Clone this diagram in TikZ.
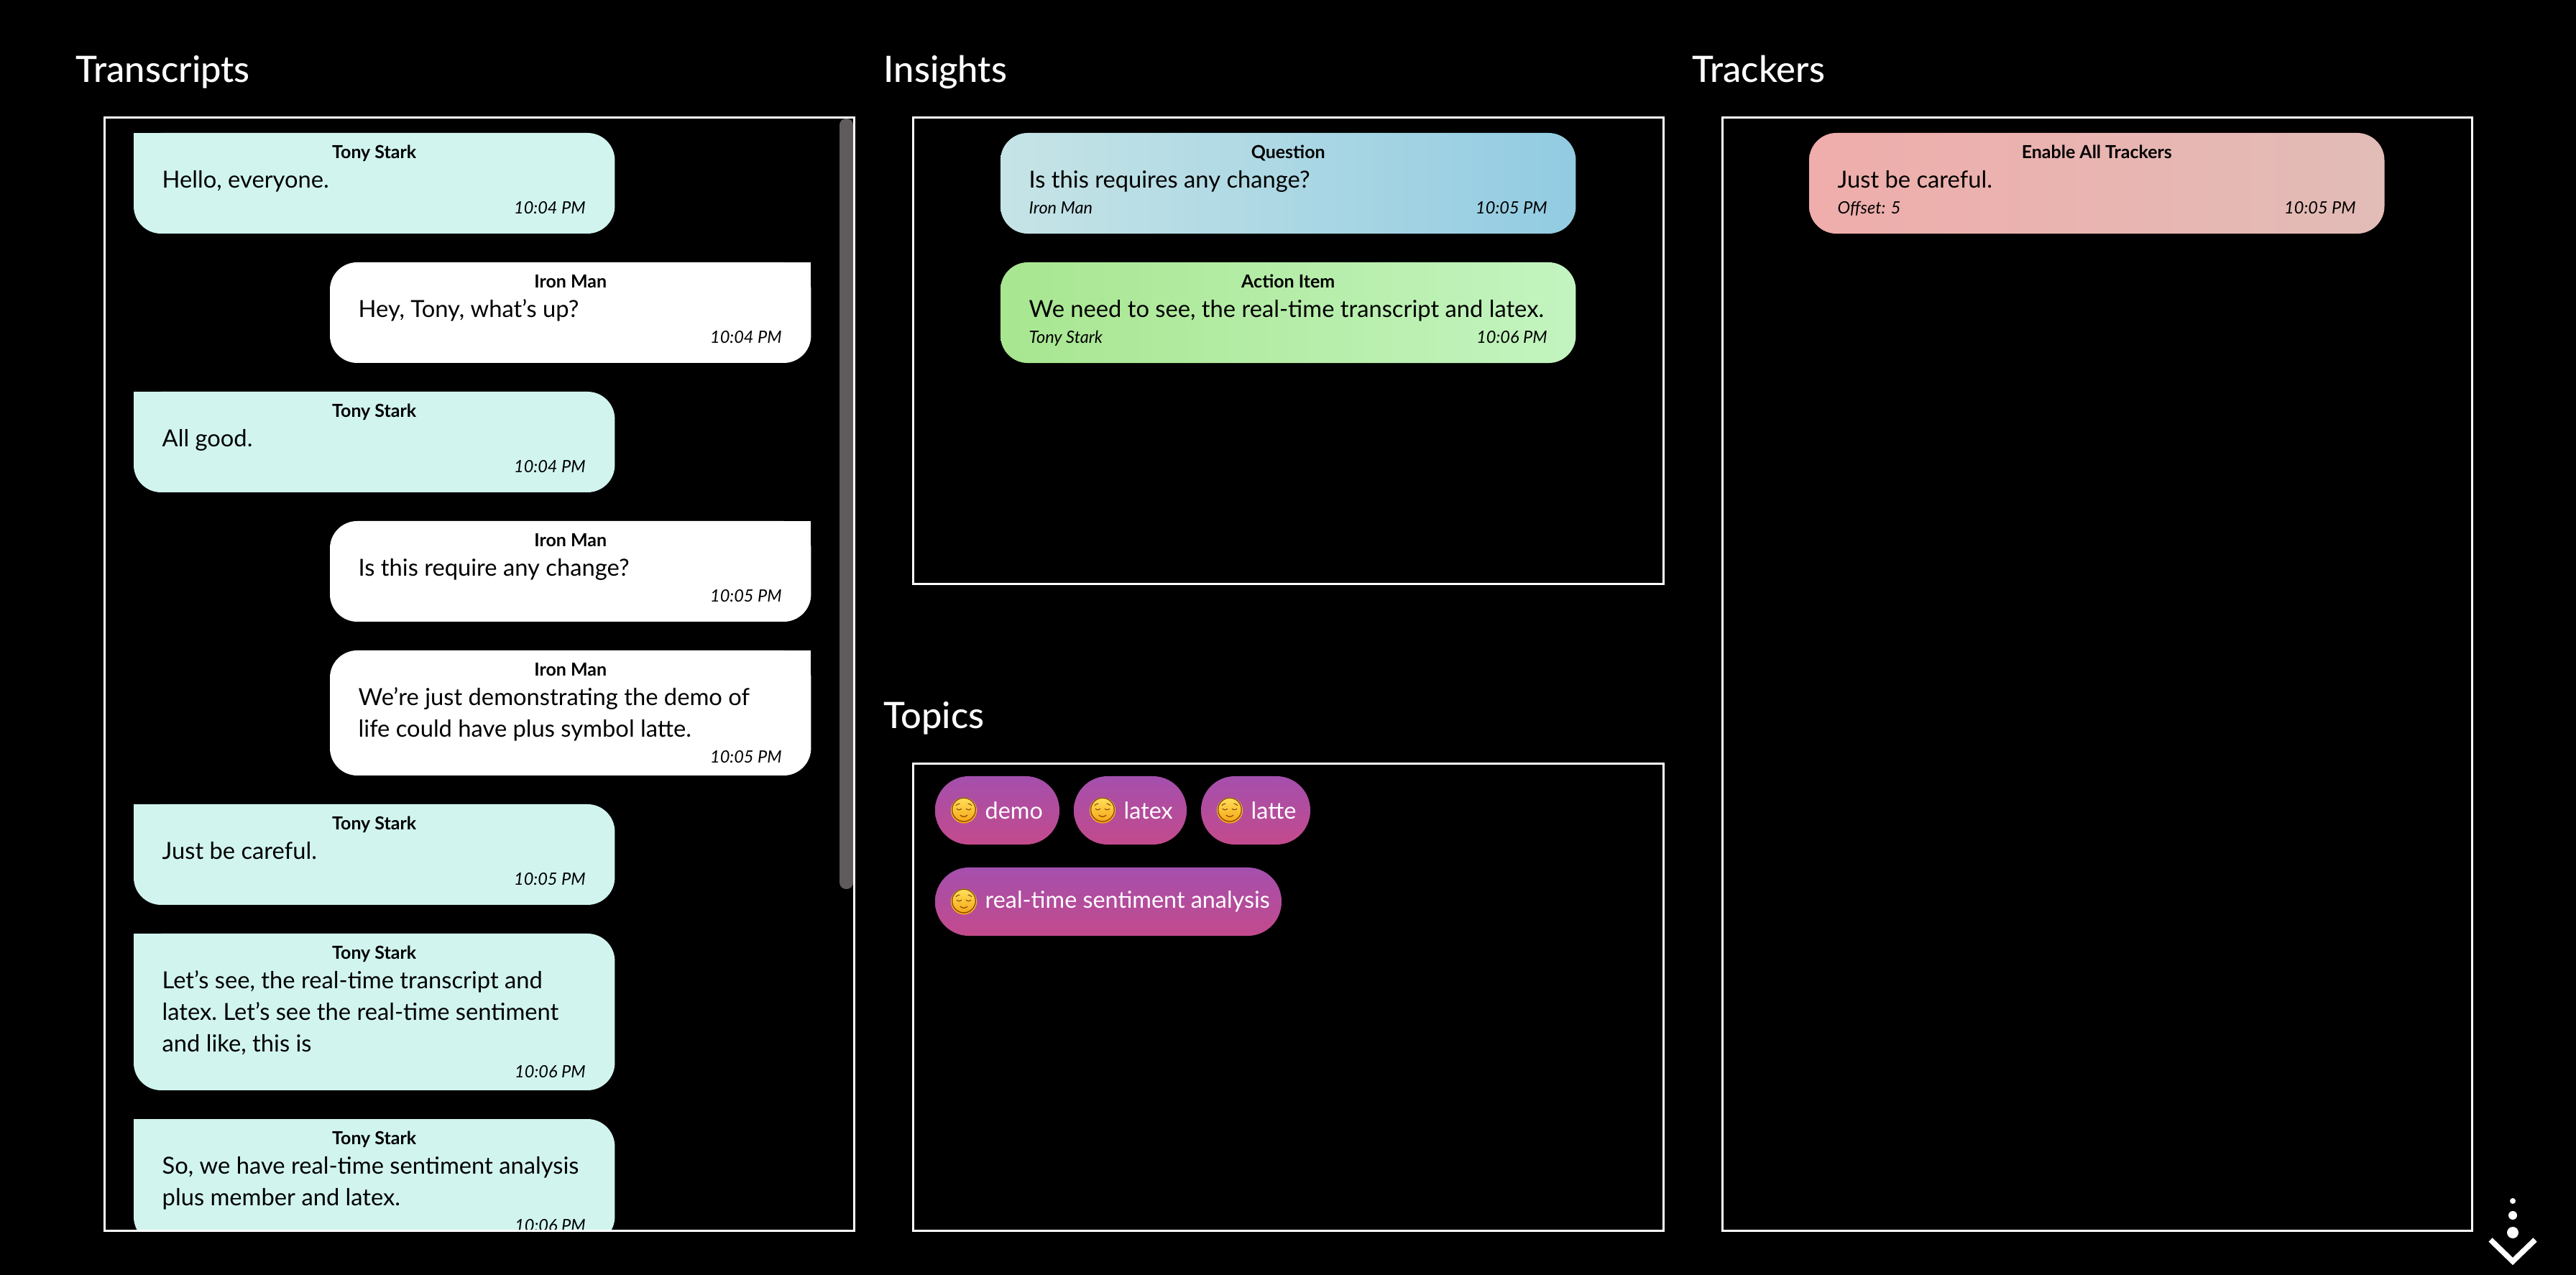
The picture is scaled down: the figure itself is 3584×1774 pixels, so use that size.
\documentclass[tikz,border=0pt]{standalone}
\usepackage{fontspec}
\setmainfont{Lato}
\newfontfamily\titlefont{Lato Medium}
\newfontfamily\emojifont{Noto Emoji}
\usetikzlibrary{arrows.meta,calc,positioning}
\definecolor{Mint}{HTML}{D1F4EF}
\definecolor{Thumb}{HTML}{5F5A5C}
\definecolor{FaceTop}{HTML}{FFE05C}
\definecolor{FaceLow}{HTML}{F7A212}
\definecolor{FaceInk}{HTML}{7A4300}
\definecolor{BubbleA}{HTML}{C6E4E6}
\definecolor{BubbleB}{HTML}{92CBE2}
\definecolor{LeafA}{HTML}{A8E690}
\definecolor{LeafB}{HTML}{C3F4C0}
\definecolor{RoseA}{HTML}{EFADAB}
\definecolor{RoseB}{HTML}{E2BCB7}
\definecolor{PillA}{HTML}{A44FAD}
\definecolor{PillB}{HTML}{C34A8C}
\tikzset{
  panel/.style={draw=white,line width=0.03cm,anchor=north west,inner sep=0pt,outer sep=0pt},
  paneltitle/.style={text=white,anchor=base west,inner sep=0pt,font=\fontsize{14.4}{16}\selectfont\titlefont},
  card/.style={anchor=north west,inner sep=0pt,outer sep=0pt,minimum width=6.69cm,rounded corners=0.38cm},
  tonybox/.style={card,fill=Mint},
  ironbox/.style={card,fill=white},
  questionbox/.style={card,minimum width=8cm,minimum height=1.4cm,left color=BubbleA,right color=BubbleB},
  actionbox/.style={card,minimum width=8cm,minimum height=1.4cm,left color=LeafA,right color=LeafB},
  trackerbox/.style={card,minimum width=8cm,minimum height=1.4cm,left color=RoseA,right color=RoseB},
  whotext/.style={anchor=base,inner sep=0pt,font=\fontsize{7.1}{8}\selectfont\bfseries},
  msgtext/.style={anchor=north west,inner sep=0pt,align=left,font=\fontsize{9.3}{12.5}\selectfont\frenchspacing},
  stamptext/.style={inner sep=0pt,font=\fontsize{6.7}{8}\selectfont\itshape},
  pill/.style={anchor=north west,inner sep=0pt,outer sep=0pt,minimum height=0.95cm,rounded corners=0.47cm,top color=PillA,bottom color=PillB},
  face/.style={circle,inner sep=-2.3pt,outer sep=0pt,minimum size=0.36cm,top color=FaceTop,bottom color=FaceLow,text=FaceInk,font=\fontsize{9.5}{10}\selectfont\emojifont},
  pilltext/.style={text=white,inner sep=0pt,font=\fontsize{9.2}{12}\selectfont},
  dot/.style={circle,fill=white,inner sep=0pt}
}
\begin{document}
\begin{tikzpicture}[x=0.01cm,y=-0.01cm]
    \fill[black] (0,0) rectangle (3584,1774);

    % headings
    \node[paneltitle] (transcriptstitle) at (105,115) {Transcripts};
    \node[paneltitle] (insightstitle) at (1229,115) {Insights};
    \node[paneltitle] (topicstitle) at (1229,1014) {Topics};
    \node[paneltitle] (trackerstitle) at (2354,115) {Trackers};

    % transcript bubbles
    \begin{scope}
      \clip (145,164) rectangle (1188,1712);
      \foreach \id/\kind/\xpos/\ypos/\tall/\who/\msg/\stamp in {
        m1/tonybox/186/185/140/Tony Stark/{Hello, everyone.}/10:04 PM,
        m2/ironbox/459/365/140/Iron Man/{Hey, Tony, what's up?}/10:04 PM,
        m3/tonybox/186/545/140/Tony Stark/{All good.}/10:04 PM,
        m4/ironbox/459/725/140/Iron Man/{Is this require any change?}/10:05 PM,
        m5/ironbox/459/905/174/Iron Man/{We're just demonstrating the demo of\\\strut life could have plus symbol latte.}/10:05 PM,
        m6/tonybox/186/1119/140/Tony Stark/{Just be careful.}/10:05 PM,
        m7/tonybox/186/1299/218/Tony Stark/{Let's see, the real-time transcript and\\\strut latex. Let's see the real-time sentiment\\\strut and like, this is}/10:06 PM,
        m8/tonybox/186/1557/174/Tony Stark/{So, we have real-time sentiment analysis\\\strut plus member and latex.}/10:06 PM}
      {
        \node[\kind,minimum height=\tall*0.01cm] (\id) at (\xpos,\ypos) {};
        \node[whotext] (\id n) at ($(\id.north)+(0,36)$) {\who};
        \node[msgtext] (\id b) at ($(\id.north west)+(39,45)$) {\strut\msg};
        \node[stamptext,anchor=base east] (\id s) at ($(\id.east |- \id b.south)+(-40,22)$) {\stamp};
      }
      \foreach \id in {m1,m3,m6,m7,m8}
        \fill[Mint] (\id.north west) rectangle ++(40,40);
      \foreach \id in {m2,m4,m5}
        \fill[white] (\id.north east) rectangle ++(-40,40);
    \end{scope}
    \fill[Thumb,rounded corners=0.09cm] (1168,165) rectangle (1187,1237);

    % insight and tracker cards
    \foreach \id/\kind/\xpos/\ypos/\head/\msg/\who/\stamp in {
      q1/questionbox/1392/185/Question/{Is this requires any change?}/Iron Man/10:05 PM,
      a1/actionbox/1392/365/Action Item/{We need to see, the real-time transcript and latex.}/Tony Stark/10:06 PM,
      k1/trackerbox/2517/185/Enable All Trackers/{Just be careful.}/Offset: 5/10:05 PM}
    {
      \node[\kind] (\id) at (\xpos,\ypos) {};
      \node[whotext] (\id n) at ($(\id.north)+(0,36)$) {\head};
      \node[msgtext] (\id b) at ($(\id.north west)+(39,45)$) {\strut\msg};
      \node[stamptext,anchor=base west] (\id w) at ($(\id b.south west)+(0,22)$) {\who};
      \node[stamptext,anchor=base east] (\id s) at ($(\id.east |- \id b.south)+(-39,22)$) {\stamp};
    }

    % topic pills
    \foreach \id/\xpos/\ypos/\wide/\topic in {
      p1/1301/1080/173/demo,
      p2/1494/1080/157/latex,
      p3/1671/1080/152/latte,
      p4/1301/1207/482/real-time sentiment analysis}
    {
      \node[pill,minimum width=\wide*0.01cm] (\id) at (\xpos,\ypos) {};
      \node[face] (\id f) at ($(\id.west)+(40,0)$) {😌};
      \node[pilltext,right=0.11cm of \id f] (\id t) {\topic};
    }

    % panel frames
    \node[panel,minimum width=10.43cm,minimum height=15.48cm] (transcripts) at (145,164) {};
    \node[panel,minimum width=10.44cm,minimum height=6.48cm] (insights) at (1270,164) {};
    \node[panel,minimum width=10.44cm,minimum height=6.49cm] (topics) at (1270,1063) {};
    \node[panel,minimum width=10.43cm,minimum height=15.48cm] (trackers) at (2396,164) {};

    % scroll hint
    \node[dot,minimum size=0.08cm] (dota) at (3496,1671) {};
    \node[dot,minimum size=0.12cm] (dotb) at (3496,1691) {};
    \node[dot,minimum size=0.16cm] (dotc) at (3496,1715) {};
    \coordinate (chevl) at (3465,1725);
    \coordinate (chevtip) at (3496,1755);
    \coordinate (chevr) at (3527,1725);
    \draw[white,line width=0.075cm,line join=miter] (chevl) -- (chevtip) -- (chevr);
\end{tikzpicture}
\end{document}
